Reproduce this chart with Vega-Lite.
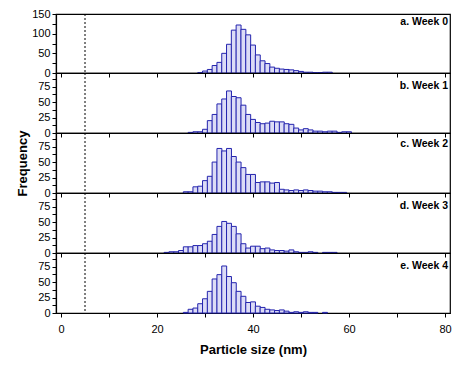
{
  "$schema": "https://vega.github.io/schema/vega-lite/v6.json",
  "padding": {"left": 16, "top": 7, "right": 2, "bottom": 5},
  "data": {"values": [
    {"week": "Week 0", "size": 29, "count": 1},
    {"week": "Week 0", "size": 30, "count": 5},
    {"week": "Week 0", "size": 31, "count": 9},
    {"week": "Week 0", "size": 32, "count": 19},
    {"week": "Week 0", "size": 33, "count": 27},
    {"week": "Week 0", "size": 34, "count": 50},
    {"week": "Week 0", "size": 35, "count": 73},
    {"week": "Week 0", "size": 36, "count": 109},
    {"week": "Week 0", "size": 37, "count": 122},
    {"week": "Week 0", "size": 38, "count": 111},
    {"week": "Week 0", "size": 39, "count": 97},
    {"week": "Week 0", "size": 40, "count": 71},
    {"week": "Week 0", "size": 41, "count": 46},
    {"week": "Week 0", "size": 42, "count": 31},
    {"week": "Week 0", "size": 43, "count": 24},
    {"week": "Week 0", "size": 44, "count": 15},
    {"week": "Week 0", "size": 45, "count": 12},
    {"week": "Week 0", "size": 46, "count": 10},
    {"week": "Week 0", "size": 47, "count": 9},
    {"week": "Week 0", "size": 48, "count": 8},
    {"week": "Week 0", "size": 49, "count": 6},
    {"week": "Week 0", "size": 50, "count": 4},
    {"week": "Week 0", "size": 51, "count": 2},
    {"week": "Week 0", "size": 52, "count": 2},
    {"week": "Week 0", "size": 53, "count": 1},
    {"week": "Week 0", "size": 54, "count": 1},
    {"week": "Week 0", "size": 55, "count": 2},
    {"week": "Week 0", "size": 56, "count": 2},
    {"week": "Week 1", "size": 27, "count": 1},
    {"week": "Week 1", "size": 28, "count": 2},
    {"week": "Week 1", "size": 29, "count": 2},
    {"week": "Week 1", "size": 30, "count": 6},
    {"week": "Week 1", "size": 31, "count": 20},
    {"week": "Week 1", "size": 32, "count": 30},
    {"week": "Week 1", "size": 33, "count": 47},
    {"week": "Week 1", "size": 34, "count": 55},
    {"week": "Week 1", "size": 35, "count": 68},
    {"week": "Week 1", "size": 36, "count": 59},
    {"week": "Week 1", "size": 37, "count": 57},
    {"week": "Week 1", "size": 38, "count": 45},
    {"week": "Week 1", "size": 39, "count": 30},
    {"week": "Week 1", "size": 40, "count": 22},
    {"week": "Week 1", "size": 41, "count": 17},
    {"week": "Week 1", "size": 42, "count": 15},
    {"week": "Week 1", "size": 43, "count": 16},
    {"week": "Week 1", "size": 44, "count": 19},
    {"week": "Week 1", "size": 45, "count": 18},
    {"week": "Week 1", "size": 46, "count": 18},
    {"week": "Week 1", "size": 47, "count": 15},
    {"week": "Week 1", "size": 48, "count": 14},
    {"week": "Week 1", "size": 49, "count": 8},
    {"week": "Week 1", "size": 50, "count": 5},
    {"week": "Week 1", "size": 51, "count": 7},
    {"week": "Week 1", "size": 52, "count": 5},
    {"week": "Week 1", "size": 53, "count": 3},
    {"week": "Week 1", "size": 54, "count": 3},
    {"week": "Week 1", "size": 55, "count": 2},
    {"week": "Week 1", "size": 56, "count": 3},
    {"week": "Week 1", "size": 57, "count": 3},
    {"week": "Week 1", "size": 58, "count": 1},
    {"week": "Week 1", "size": 59, "count": 2},
    {"week": "Week 1", "size": 60, "count": 2},
    {"week": "Week 2", "size": 26, "count": 2},
    {"week": "Week 2", "size": 27, "count": 2},
    {"week": "Week 2", "size": 28, "count": 10},
    {"week": "Week 2", "size": 29, "count": 11},
    {"week": "Week 2", "size": 30, "count": 20},
    {"week": "Week 2", "size": 31, "count": 27},
    {"week": "Week 2", "size": 32, "count": 50},
    {"week": "Week 2", "size": 33, "count": 72},
    {"week": "Week 2", "size": 34, "count": 68},
    {"week": "Week 2", "size": 35, "count": 72},
    {"week": "Week 2", "size": 36, "count": 59},
    {"week": "Week 2", "size": 37, "count": 50},
    {"week": "Week 2", "size": 38, "count": 41},
    {"week": "Week 2", "size": 39, "count": 30},
    {"week": "Week 2", "size": 40, "count": 30},
    {"week": "Week 2", "size": 41, "count": 17},
    {"week": "Week 2", "size": 42, "count": 18},
    {"week": "Week 2", "size": 43, "count": 18},
    {"week": "Week 2", "size": 44, "count": 16},
    {"week": "Week 2", "size": 45, "count": 17},
    {"week": "Week 2", "size": 46, "count": 6},
    {"week": "Week 2", "size": 47, "count": 5},
    {"week": "Week 2", "size": 48, "count": 4},
    {"week": "Week 2", "size": 49, "count": 5},
    {"week": "Week 2", "size": 50, "count": 4},
    {"week": "Week 2", "size": 51, "count": 5},
    {"week": "Week 2", "size": 52, "count": 4},
    {"week": "Week 2", "size": 53, "count": 3},
    {"week": "Week 2", "size": 54, "count": 3},
    {"week": "Week 2", "size": 55, "count": 2},
    {"week": "Week 2", "size": 56, "count": 2},
    {"week": "Week 2", "size": 57, "count": 1},
    {"week": "Week 2", "size": 58, "count": 1},
    {"week": "Week 2", "size": 59, "count": 1},
    {"week": "Week 3", "size": 22, "count": 1},
    {"week": "Week 3", "size": 23, "count": 2},
    {"week": "Week 3", "size": 24, "count": 2},
    {"week": "Week 3", "size": 25, "count": 4},
    {"week": "Week 3", "size": 26, "count": 10},
    {"week": "Week 3", "size": 27, "count": 10},
    {"week": "Week 3", "size": 28, "count": 12},
    {"week": "Week 3", "size": 29, "count": 12},
    {"week": "Week 3", "size": 30, "count": 15},
    {"week": "Week 3", "size": 31, "count": 19},
    {"week": "Week 3", "size": 32, "count": 30},
    {"week": "Week 3", "size": 33, "count": 43},
    {"week": "Week 3", "size": 34, "count": 51},
    {"week": "Week 3", "size": 35, "count": 48},
    {"week": "Week 3", "size": 36, "count": 43},
    {"week": "Week 3", "size": 37, "count": 31},
    {"week": "Week 3", "size": 38, "count": 15},
    {"week": "Week 3", "size": 39, "count": 8},
    {"week": "Week 3", "size": 40, "count": 11},
    {"week": "Week 3", "size": 41, "count": 11},
    {"week": "Week 3", "size": 42, "count": 7},
    {"week": "Week 3", "size": 43, "count": 8},
    {"week": "Week 3", "size": 44, "count": 5},
    {"week": "Week 3", "size": 45, "count": 4},
    {"week": "Week 3", "size": 46, "count": 4},
    {"week": "Week 3", "size": 47, "count": 3},
    {"week": "Week 3", "size": 48, "count": 5},
    {"week": "Week 3", "size": 49, "count": 2},
    {"week": "Week 3", "size": 50, "count": 1},
    {"week": "Week 3", "size": 51, "count": 1},
    {"week": "Week 3", "size": 52, "count": 2},
    {"week": "Week 3", "size": 53, "count": 1},
    {"week": "Week 3", "size": 55, "count": 1},
    {"week": "Week 3", "size": 56, "count": 1},
    {"week": "Week 3", "size": 57, "count": 1},
    {"week": "Week 4", "size": 26, "count": 1},
    {"week": "Week 4", "size": 27, "count": 6},
    {"week": "Week 4", "size": 28, "count": 8},
    {"week": "Week 4", "size": 29, "count": 15},
    {"week": "Week 4", "size": 30, "count": 23},
    {"week": "Week 4", "size": 31, "count": 35},
    {"week": "Week 4", "size": 32, "count": 55},
    {"week": "Week 4", "size": 33, "count": 62},
    {"week": "Week 4", "size": 34, "count": 76},
    {"week": "Week 4", "size": 35, "count": 59},
    {"week": "Week 4", "size": 36, "count": 49},
    {"week": "Week 4", "size": 37, "count": 35},
    {"week": "Week 4", "size": 38, "count": 27},
    {"week": "Week 4", "size": 39, "count": 17},
    {"week": "Week 4", "size": 40, "count": 18},
    {"week": "Week 4", "size": 41, "count": 11},
    {"week": "Week 4", "size": 42, "count": 9},
    {"week": "Week 4", "size": 43, "count": 6},
    {"week": "Week 4", "size": 44, "count": 5},
    {"week": "Week 4", "size": 45, "count": 4},
    {"week": "Week 4", "size": 46, "count": 5},
    {"week": "Week 4", "size": 47, "count": 3},
    {"week": "Week 4", "size": 48, "count": 1},
    {"week": "Week 4", "size": 49, "count": 2},
    {"week": "Week 4", "size": 50, "count": 1},
    {"week": "Week 4", "size": 51, "count": 2},
    {"week": "Week 4", "size": 52, "count": 1},
    {"week": "Week 4", "size": 53, "count": 1},
    {"week": "Week 4", "size": 55, "count": 1}
  ]},
  "spacing": 0,
  "bounds": "flush",
  "vconcat": [
    {
      "width": 394, "height": 59,
      "title": {"text": "a. Week 0", "anchor": "end", "frame": "group", "offset": -19, "dx": -2},
      "layer": [
        {"transform": [{"filter": "datum.week === 'Week 0'"}],
         "mark": {"type": "bar", "size": 4.92, "fill": "#dcdcf6", "stroke": "#2424ae", "strokeWidth": 1},
         "encoding": {
           "x": {"field": "size", "type": "quantitative", "scale": {"domain": [0, 80], "nice": false, "zero": false},
                 "axis": {"values": [0,10,20,30,40,50,60,70,80], "labels": false, "title": null}},
           "y": {"field": "count", "type": "quantitative", "scale": {"domain": [0, 150], "nice": false},
                 "axis": {"values": [0,25,50,75,100,125,150], "title": null,
                          "labelExpr": "datum.value % 50 === 0 ? datum.label : ''"}}
         }},
        {"data": {"values": [{}]}, "mark": {"type": "rule", "strokeDash": [2, 2], "color": "black", "strokeWidth": 1},
         "encoding": {"x": {"datum": 5}}}
      ]
    },
    {
      "width": 394, "height": 60,
      "title": {"text": "b. Week 1", "anchor": "end", "frame": "group", "offset": -19, "dx": -2},
      "layer": [
        {"transform": [{"filter": "datum.week === 'Week 1'"}],
         "mark": {"type": "bar", "size": 4.92, "fill": "#dcdcf6", "stroke": "#2424ae", "strokeWidth": 1},
         "encoding": {
           "x": {"field": "size", "type": "quantitative", "scale": {"domain": [0, 80], "nice": false, "zero": false},
                 "axis": {"values": [0,10,20,30,40,50,60,70,80], "labels": false, "title": null}},
           "y": {"field": "count", "type": "quantitative", "scale": {"domain": [0, 97], "nice": false},
                 "axis": {"values": [0,12.5,25,37.5,50,62.5,75,87.5], "title": null,
                          "labelExpr": "datum.value % 25 === 0 ? datum.label : ''"}}
         }},
        {"data": {"values": [{}]}, "mark": {"type": "rule", "strokeDash": [2, 2], "color": "black", "strokeWidth": 1},
         "encoding": {"x": {"datum": 5}}}
      ]
    },
    {
      "width": 394, "height": 60,
      "title": {"text": "c. Week 2", "anchor": "end", "frame": "group", "offset": -19, "dx": -2},
      "layer": [
        {"transform": [{"filter": "datum.week === 'Week 2'"}],
         "mark": {"type": "bar", "size": 4.92, "fill": "#dcdcf6", "stroke": "#2424ae", "strokeWidth": 1},
         "encoding": {
           "x": {"field": "size", "type": "quantitative", "scale": {"domain": [0, 80], "nice": false, "zero": false},
                 "axis": {"values": [0,10,20,30,40,50,60,70,80], "labels": false, "title": null}},
           "y": {"field": "count", "type": "quantitative", "scale": {"domain": [0, 97], "nice": false},
                 "axis": {"values": [0,12.5,25,37.5,50,62.5,75,87.5], "title": "Frequency", "titlePadding": 8,
                          "labelExpr": "datum.value % 25 === 0 ? datum.label : ''"}}
         }},
        {"data": {"values": [{}]}, "mark": {"type": "rule", "strokeDash": [2, 2], "color": "black", "strokeWidth": 1},
         "encoding": {"x": {"datum": 5}}}
      ]
    },
    {
      "width": 394, "height": 60,
      "title": {"text": "d. Week 3", "anchor": "end", "frame": "group", "offset": -19, "dx": -2},
      "layer": [
        {"transform": [{"filter": "datum.week === 'Week 3'"}],
         "mark": {"type": "bar", "size": 4.92, "fill": "#dcdcf6", "stroke": "#2424ae", "strokeWidth": 1},
         "encoding": {
           "x": {"field": "size", "type": "quantitative", "scale": {"domain": [0, 80], "nice": false, "zero": false},
                 "axis": {"values": [0,10,20,30,40,50,60,70,80], "labels": false, "title": null}},
           "y": {"field": "count", "type": "quantitative", "scale": {"domain": [0, 97], "nice": false},
                 "axis": {"values": [0,12.5,25,37.5,50,62.5,75,87.5], "title": null,
                          "labelExpr": "datum.value % 25 === 0 ? datum.label : ''"}}
         }},
        {"data": {"values": [{}]}, "mark": {"type": "rule", "strokeDash": [2, 2], "color": "black", "strokeWidth": 1},
         "encoding": {"x": {"datum": 5}}}
      ]
    },
    {
      "width": 394, "height": 60,
      "title": {"text": "e. Week 4", "anchor": "end", "frame": "group", "offset": -19, "dx": -2},
      "layer": [
        {"transform": [{"filter": "datum.week === 'Week 4'"}],
         "mark": {"type": "bar", "size": 4.92, "fill": "#dcdcf6", "stroke": "#2424ae", "strokeWidth": 1},
         "encoding": {
           "x": {"field": "size", "type": "quantitative", "scale": {"domain": [0, 80], "nice": false, "zero": false},
                 "axis": {"values": [0,10,20,30,40,50,60,70,80], "title": "Particle size (nm)", "titlePadding": 9, "labelPadding": 6,
                          "labelExpr": "datum.value % 20 === 0 ? datum.label : ''"}},
           "y": {"field": "count", "type": "quantitative", "scale": {"domain": [0, 97], "nice": false},
                 "axis": {"values": [0,12.5,25,37.5,50,62.5,75,87.5], "title": null,
                          "labelExpr": "datum.value % 25 === 0 ? datum.label : ''"}}
         }},
        {"data": {"values": [{}]}, "mark": {"type": "rule", "strokeDash": [2, 2], "color": "black", "strokeWidth": 1},
         "encoding": {"x": {"datum": 5}}}
      ]
    }
  ],
  "config": {
    "font": "Liberation Sans",
    "view": {"stroke": "black", "strokeWidth": 1.2},
    "title": {"font": "Liberation Sans", "fontSize": 10.5, "fontWeight": "bold", "color": "black"},
    "axis": {
      "grid": false,
      "domainColor": "black", "domainWidth": 1.2,
      "tickColor": "black", "tickWidth": 1, "tickSize": 4,
      "labelColor": "black", "labelFont": "Liberation Sans", "labelFontSize": 11, "labelPadding": 2,
      "labelFlush": false,
      "titleColor": "black", "titleFont": "Liberation Sans", "titleFontSize": 13, "titleFontWeight": "bold"
    }
  }
}
